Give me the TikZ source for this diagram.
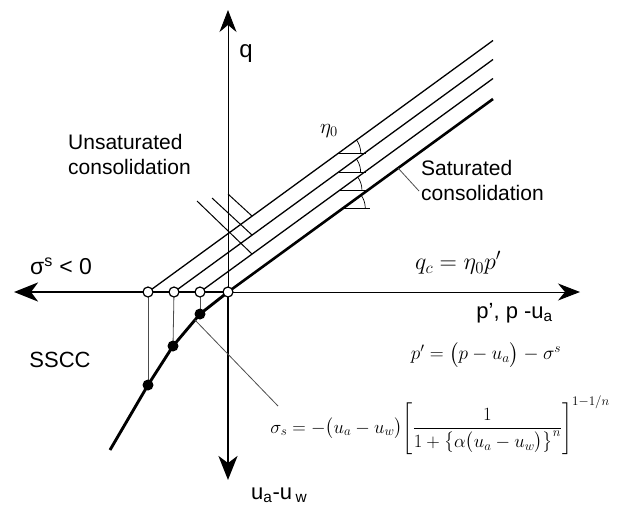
\documentclass[tikz,border=0pt]{standalone}
\usepackage{fix-cm}
\usepackage{fontspec}
\setmainfont{Liberation Sans}
\usepackage{amsmath}
\usetikzlibrary{arrows.meta}
\begin{document}
\begin{tikzpicture}[x=1pt,y=-1pt,
  thinln/.style={line width=1.3pt},
  thickln/.style={line width=2.9pt},
  guide/.style={line width=0.8pt, black!70},
  tipbig/.style={-{Stealth[length=24pt,width=19pt,inset=7pt]}},
  tipthin/.style={-{Stealth[length=22pt,width=17pt,inset=7pt]}},
  opendot/.style={circle,draw,fill=white,line width=1.2pt,inner sep=0pt,minimum size=10pt},
  fulldot/.style={circle,fill=black,inner sep=0pt,minimum size=11pt},
  lbl/.style={font=\fontsize{21}{25}\selectfont, inner sep=0pt},
  mth/.style={inner sep=0pt},
]
\useasboundingbox (0,0) rectangle (619,507);

% key points
\coordinate (O) at (228,292);
\coordinate (qtip) at (228,10);
\coordinate (ltip) at (14,292);
\coordinate (rtip) at (580,292);
\coordinate (dtip) at (228,480);
\coordinate (c1p) at (148,292);
\coordinate (c2p) at (174,292);
\coordinate (c3p) at (200,292);
\coordinate (e1) at (493,40.5);
\coordinate (e2) at (493,59.5);
\coordinate (e3) at (493,78.5);
\coordinate (e4) at (493,99);
\coordinate (f1) at (148,385);
\coordinate (f2) at (173,346);
\coordinate (f3) at (200,314);
\coordinate (send) at (110,450);

% axes
\draw[line width=0.9pt, tipthin] (O) -- (qtip);
\draw[line width=1pt, tipthin] (O) -- (rtip);
\draw[thickln, tipbig] (O) -- (ltip);
\draw[thickln, tipbig] (O) -- (dtip);

% consolidation lines
\draw[thinln] (c1p) -- (e1);
\draw[thinln] (c2p) -- (e2);
\draw[thinln] (c3p) -- (e3);
\draw[line width=2.6pt] (O) -- (e4);

% SSCC curve
\draw[thickln, line join=round] (O) -- (f3) -- (f2) -- (f1) -- (send);

% vertical guides
\draw[guide] (c1p) -- (f1);
\draw[guide] (c2p) -- (f2);
\draw[guide] (c3p) -- (f3);

% hatches (unsaturated consolidation)
\coordinate (h1a) at (252,254); \coordinate (h1b) at (197,201);
\coordinate (h2a) at (252,235); \coordinate (h2b) at (212,198);
\coordinate (h3a) at (252,216); \coordinate (h3b) at (228,194);
\draw[line width=1pt] (h1a) -- (h1b);
\draw[line width=1pt] (h2a) -- (h2b);
\draw[line width=1pt] (h3a) -- (h3b);

% angle marks
\foreach \px/\py in {338.7/153, 338.6/172, 339.9/190, 343.2/208}{
  \draw[line width=0.7pt] (\px,\py) -- ++(27,0);
  \draw[line width=0.7pt] plot[domain=0:36,samples=14] ({\px+22*cos(\x)},{\py-22*sin(\x)});
}

% dots
\node[opendot] (c1) at (c1p) {};
\node[opendot] (c2) at (c2p) {};
\node[opendot] (c3) at (c3p) {};
\node[opendot] (c4) at (O) {};
\node[fulldot] (d1) at (f1) {};
\node[fulldot] (d2) at (f2) {};
\node[fulldot] (d3) at (f3) {};

% leaders
\coordinate (satA) at (398,168);
\coordinate (satB) at (419,191);
\draw[guide] (satA) -- (satB);
\coordinate (sgA) at (195,320);
\coordinate (sgB) at (278,406);
\draw[guide] (sgA) -- (sgB);

% labels
\node[font=\fontsize{24}{28}\selectfont, inner sep=0pt] (q) at (246,54) {q};
\node[lbl, anchor=west, align=left] (unsat) at (68,154) {Unsaturated\\consolidation};
\node[lbl, anchor=west, align=left] (sat) at (421,180) {Saturated\\consolidation};
\node[font=\fontsize{23}{27}\selectfont, inner sep=0pt, anchor=west] (sig) at (30,266) {σ\textsuperscript{s} < 0};
\node[font=\fontsize{22}{26}\selectfont, inner sep=0pt] (sscc) at (60,360) {SSCC};
\node[font=\fontsize{22}{26}\selectfont, inner sep=0pt, anchor=east] (pax) at (553,313) {p’, p -u\textsubscript{a}};
\node[font=\fontsize{22}{26}\selectfont, inner sep=0pt, anchor=west] (uw) at (251,495) {u\textsubscript{a}-u\,\textsubscript{w}};
\node[mth, font=\fontsize{21}{24}\selectfont] (eta) at (329,131) {$\eta_0$};
\node[mth, font=\fontsize{24}{28}\selectfont] (qc) at (458,263) {$q_c=\eta_0 p'$};
\node[mth, font=\fontsize{19.3}{23}\selectfont] (pp) at (486,355) {$p'=\bigl(p-u_a\bigr)-\sigma^s$};
\node[mth, font=\fontsize{18.7}{22}\selectfont, anchor=east] (ss) at (610,426) {$\sigma_s=-\bigl(u_a-u_w\bigr)\Biggl[\dfrac{1}{1+\bigl\{\alpha\bigl(u_a-u_w\bigr)\bigr\}^n}\Biggr]^{1-1/n}$};
\end{tikzpicture}
\end{document}
